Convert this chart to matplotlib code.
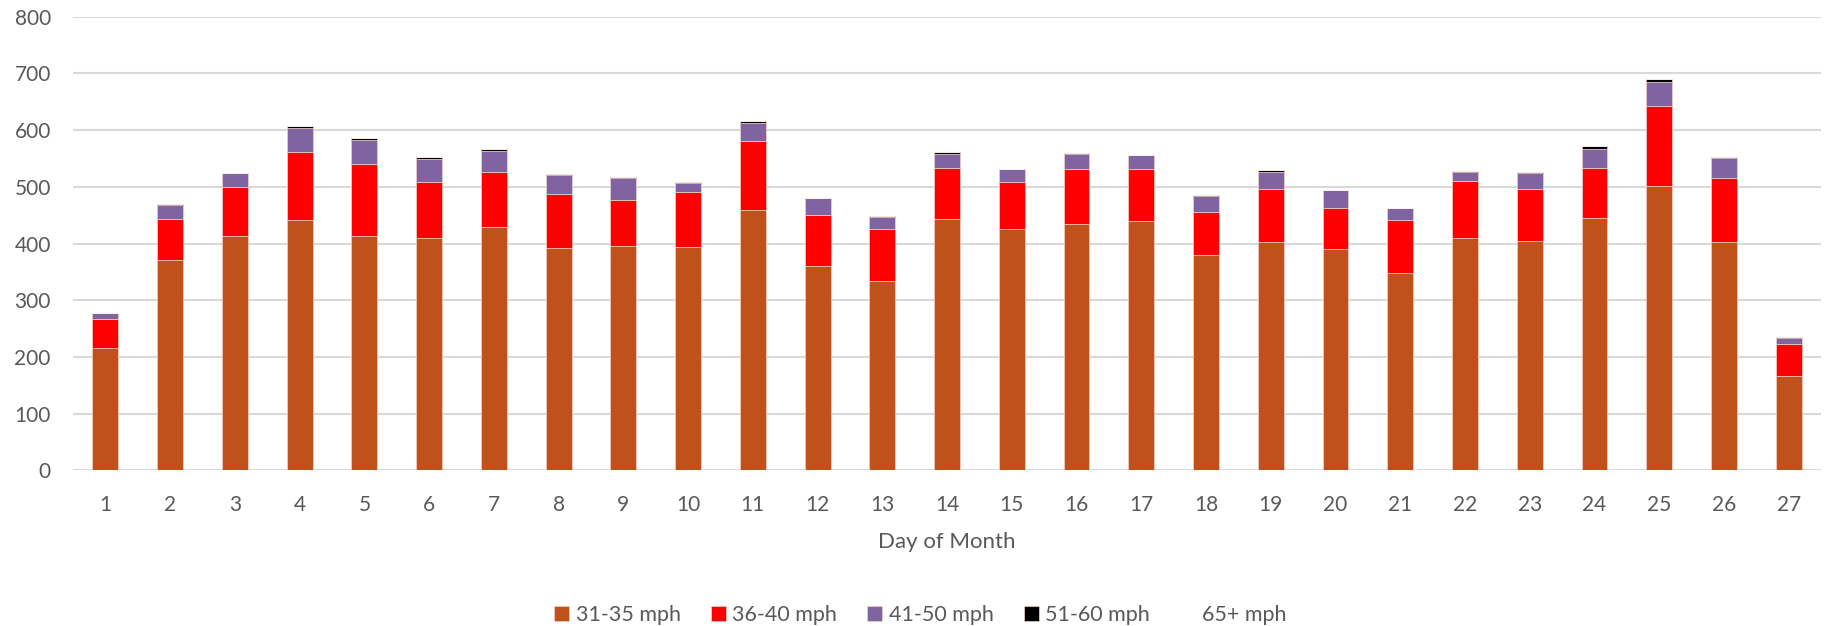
import numpy as np
import matplotlib
matplotlib.use("Agg")
import matplotlib.pyplot as plt

plt.rcParams['font.family'] = ['Lato', 'DejaVu Sans']

# data
days = list(range(1, 28))
mph_31_35 = [216, 371, 414, 442, 414, 409, 429, 392, 395, 394, 459, 360, 334, 443,
             425, 434, 440, 379, 402, 391, 348, 410, 405, 445, 502, 403, 167]
mph_36_40 = [50, 73, 85, 120, 127, 99, 98, 96, 81, 96, 122, 90, 91, 91,
             84, 97, 91, 76, 95, 71, 93, 100, 92, 89, 141, 112, 55]
mph_41_50 = [11, 24, 26, 42, 41, 41, 37, 32, 39, 17, 32, 30, 22, 24,
             22, 26, 25, 29, 30, 33, 21, 16, 28, 32, 42, 35, 12]
mph_51_60 = [0, 1, 0, 4, 4, 3, 3, 3, 2, 2, 3, 1, 1, 3,
             1, 2, 0, 2, 2, 0, 0, 2, 2, 6, 5, 3, 2]
mph_65 = [0] * 27

series = [("31-35 mph", mph_31_35, "#C0511A"),
          ("36-40 mph", mph_36_40, "#FF0000"),
          ("41-50 mph", mph_41_50, "#8064A2"),
          ("51-60 mph", mph_51_60, "#000000"),
          ("65+ mph", mph_65, "#FFFFFF")]

fig = plt.figure(figsize=(18.26, 6.26), dpi=100)
ax = fig.add_axes([0.04, 0.2487, 0.9573, 0.7246])

bottom = np.zeros(len(days))
for name, vals, col in series:
    vals = np.array(vals, dtype=float)
    ax.bar(days, vals, width=0.4, bottom=bottom, color=col, label=name,
           edgecolor="#F2D0C8" if col != "#FFFFFF" else "#FFFFFF", linewidth=0.5, zorder=3)
    bottom = bottom + vals

ax.set_xlim(0.5, 27.5)
ax.set_ylim(0, 800)
ax.set_yticks(range(0, 801, 100))
ax.set_xticks(days)
ax.grid(axis="y", color="#D9D9D9", linewidth=1.5, zorder=0)
for s in ax.spines.values():
    s.set_visible(False)
ax.tick_params(axis="both", length=0, labelsize=15, labelcolor="#595959")
ax.tick_params(axis="y", pad=16)
ax.tick_params(axis="x", pad=18)
ax.set_xlabel("Day of Month", fontsize=16, color="#595959", labelpad=12)

fig.legend(loc="center", bbox_to_anchor=(0.504, 0.0176), ncol=5, frameon=False,
           fontsize=15.5, labelcolor="#595959", handlelength=0.7, handleheight=0.7,
           handletextpad=0.3, columnspacing=1.4, borderaxespad=0, borderpad=0)

fig.savefig("out.png", dpi=100)
